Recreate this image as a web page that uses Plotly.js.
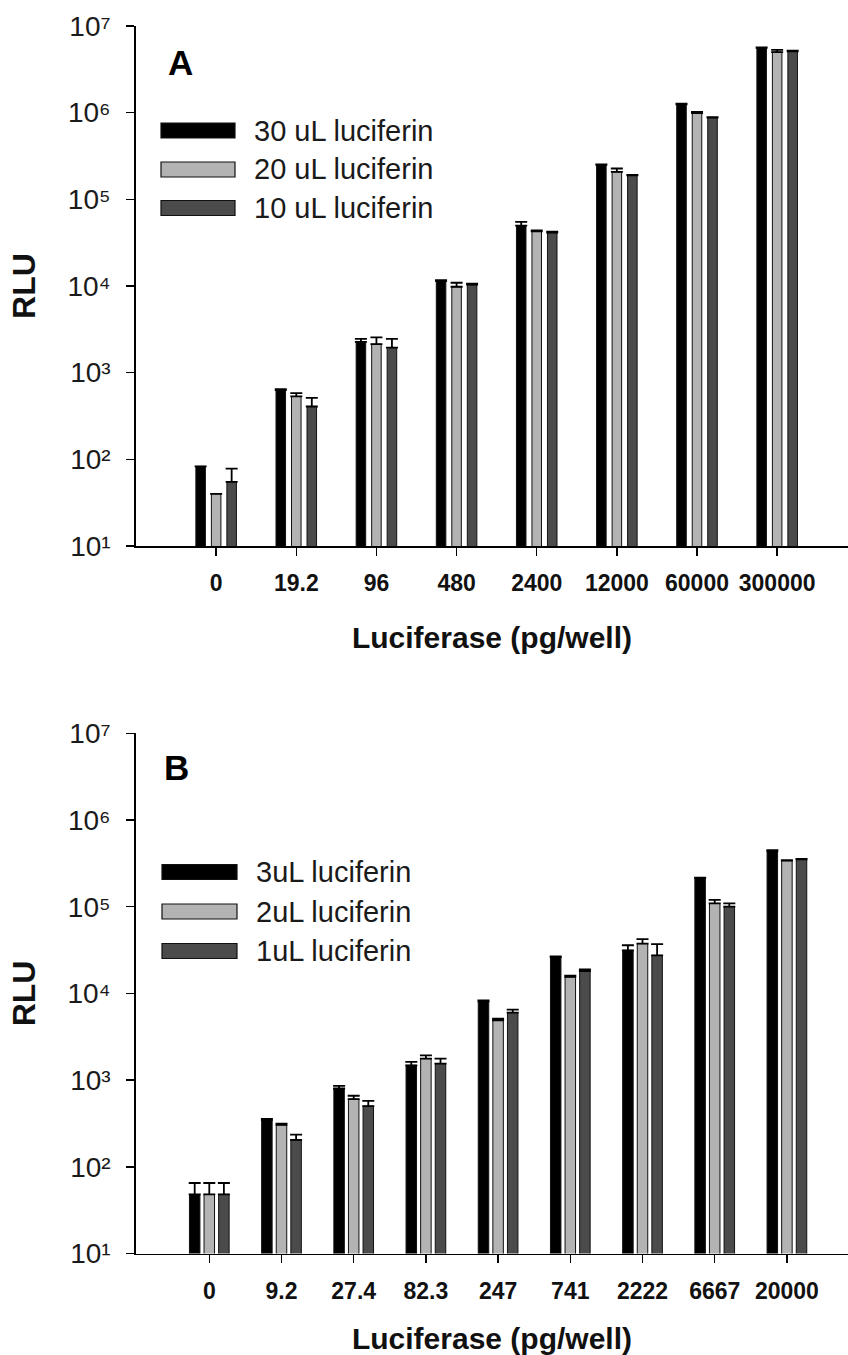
<!DOCTYPE html>
<html>
<head>
<meta charset="utf-8">
<script src="https://cdn.plot.ly/plotly-3.0.1.min.js"></script>
<style>html,body{margin:0;padding:0;background:#fff;}#chart{width:848px;height:1355px;}</style>
</head>
<body>
<div id="chart"></div>
<script>
// ---------- Data ----------
const catsA = ['0', '19.2', '96', '480', '2400', '12000', '60000', '300000'];
const namesA = ['30 uL luciferin', '20 uL luciferin', '10 uL luciferin'];
const a30 = [83, 630, 2270, 11400, 49800, 250000, 1250000, 5580000];
const a30err = [0, 15, 180, 300, 5000, 3000, 20000, 100000];
const a20 = [40, 532, 2130, 9800, 42800, 207000, 990000, 5000000];
const a20err = [0, 50, 430, 1100, 1000, 20000, 30000, 300000];
const a10 = [55, 407, 1950, 10350, 41300, 189000, 880000, 5100000];
const a10err = [23, 106, 500, 300, 1000, 3000, 10000, 100000];

const catsB = ['0', '9.2', '27.4', '82.3', '247', '741', '2222', '6667', '20000'];
const namesB = ['3uL luciferin', '2uL luciferin', '1uL luciferin'];
const b3 = [48, 348, 800, 1480, 8100, 26300, 31400, 214000, 440000];
const b3err = [17, 10, 60, 140, 200, 500, 4500, 3000, 10000];
const b2 = [48, 304, 603, 1770, 4900, 15500, 37500, 109000, 340000];
const b2err = [17, 10, 57, 160, 200, 500, 4800, 11000, 5000];
const b1 = [48, 204, 500, 1550, 6000, 18100, 27400, 100000, 351000];
const b1err = [17, 31, 75, 220, 500, 800, 9600, 9000, 5000];

const yTickVals = [10, 100, 1000, 10000, 100000, 1000000, 10000000];
const yTickText = ['10\u00B9', '10\u00B2', '10\u00B3', '10\u2074', '10\u2075', '10\u2076', '10\u2077'];

const xTitle = 'Luciferase (pg/well)';
const yTitle = 'RLU';
const panelLabels = ['A', 'B'];

// ---------- Styles ----------
const colors = ['#000000', '#b3b3b3', '#4b4b4b'];
const W = 848, H = 1355;
const px = x => x / W;
const py = y => 1 - y / H;
const FONT = 'Arial, "Liberation Sans", sans-serif';

const geomA = {width: 0.119, offsets: [-0.253, -0.0595, 0.134]};
const geomB = {width: 0.1454, offsets: [-0.2749, -0.0727, 0.1295]};

function mkTrace(cats, vals, errs, i, name, xa, ya, geom) {
  return {
    type: 'bar', x: cats, y: vals, name: name, xaxis: xa, yaxis: ya,
    width: geom.width, offset: geom.offsets[i],
    marker: {color: colors[i], line: {color: '#111', width: 1}},
    error_y: {type: 'data', symmetric: false, array: errs, arrayminus: errs.map(() => 0),
              color: '#000', thickness: 1.8, width: 6},
    showlegend: false, hoverinfo: 'x+y+name'
  };
}

const data = [
  mkTrace(catsA, a30, a30err, 0, namesA[0], 'x', 'y', geomA),
  mkTrace(catsA, a20, a20err, 1, namesA[1], 'x', 'y', geomA),
  mkTrace(catsA, a10, a10err, 2, namesA[2], 'x', 'y', geomA),
  mkTrace(catsB, b3, b3err, 0, namesB[0], 'x2', 'y2', geomB),
  mkTrace(catsB, b2, b2err, 1, namesB[1], 'x2', 'y2', geomB),
  mkTrace(catsB, b1, b1err, 2, namesB[2], 'x2', 'y2', geomB)
];

function xAxis(cats, range, anchor, standoff) {
  return {
    domain: [px(136), 1], anchor: anchor, type: 'category', range: range,
    showline: true, linecolor: '#000', linewidth: 1.8, mirror: false,
    ticks: 'outside', ticklen: 8, tickwidth: 1.5, tickcolor: '#000',
    tickfont: {family: FONT, size: 23, color: '#111', weight: 'bold'},
    ticklabelstandoff: 8,
    showgrid: false, zeroline: false, fixedrange: true,
    title: {text: xTitle, font: {family: FONT, size: 30, color: '#111', weight: 'bold'}, standoff: standoff}
  };
}
function yAxis(domTop, domBot, anchor) {
  return {
    domain: [py(domBot), py(domTop)], anchor: anchor, type: 'log', range: [1, 7],
    tickmode: 'array', tickvals: yTickVals, ticktext: yTickText,
    showline: true, linecolor: '#000', linewidth: 1.8,
    ticks: 'outside', ticklen: 8, tickwidth: 1.5, tickcolor: '#000',
    tickfont: {family: FONT, size: 28, color: '#1a1a1a'},
    ticklabelstandoff: 10,
    showgrid: false, zeroline: false, fixedrange: true,
    title: {text: yTitle, font: {family: FONT, size: 32, color: '#111', weight: 'bold'}, standoff: 22}
  };
}

// legend built from names/colors
const shapes = [];
const annotations = [];
function legend(names, x0, x1, centers) {
  names.forEach((n, i) => {
    shapes.push({type: 'rect', xref: 'paper', yref: 'paper',
      x0: px(x0), x1: px(x1), y0: py(centers[i] + 7.5), y1: py(centers[i] - 7.5),
      fillcolor: colors[i], line: {color: '#111', width: 1.2}});
    annotations.push({xref: 'paper', yref: 'paper', x: px(x1 + 17), y: py(centers[i]),
      xanchor: 'left', yanchor: 'middle', showarrow: false, text: n,
      font: {family: FONT, size: 29, color: '#1a1a1a'}});
  });
}
legend(namesA, 161, 235, [130.5, 169.5, 208]);
legend(namesB, 162, 237, [872, 911.5, 951]);

annotations.push({xref: 'paper', yref: 'paper', x: px(180), y: py(62), xanchor: 'center', yanchor: 'middle',
  showarrow: false, text: panelLabels[0], font: {family: FONT, size: 35, color: '#000', weight: 'bold'}});
annotations.push({xref: 'paper', yref: 'paper', x: px(176), y: py(767), xanchor: 'center', yanchor: 'middle',
  showarrow: false, text: panelLabels[1], font: {family: FONT, size: 35, color: '#000', weight: 'bold'}});

const layout = {
  width: W, height: H,
  margin: {l: 0, r: 0, t: 0, b: 0},
  paper_bgcolor: '#fff', plot_bgcolor: '#fff',
  barmode: 'overlay',
  showlegend: false,
  xaxis: xAxis(catsA, [-1.0, 7.884], 'y', 31),
  yaxis: yAxis(26, 546, 'x'),
  xaxis2: xAxis(catsB, [-1.015, 8.846], 'y2', 28),
  yaxis2: yAxis(733.3, 1253.5, 'x2'),
  shapes: shapes,
  annotations: annotations
};

Plotly.newPlot('chart', data, layout, {displayModeBar: false, staticPlot: true});
</script>
</body>
</html>
